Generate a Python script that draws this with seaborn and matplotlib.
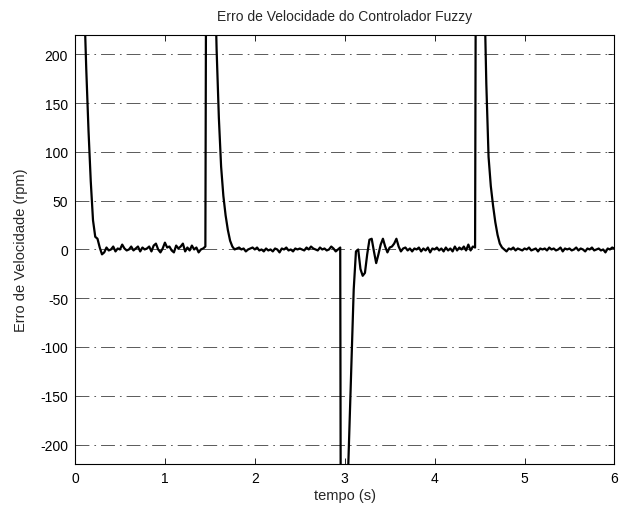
import numpy as np
import pandas as pd
import matplotlib
matplotlib.use("Agg")
import matplotlib.pyplot as plt
import seaborn as sns

# sampling interval of the logged signal (s)
dt = 0.025

# speed error (rpm), one value per sample
erro = [
    900, 600, 420, 330, 260, 185, 122, 70, 30, 13,
    11, 2, -5, -3, 2, -1, 0, 3, -2, 1,
    0, 5, 1, -1, 0, 3, -1, 1, 3, -2,
    2, 0, 1, 3, -2, 4, 6, 0, -3, 1,
    7, 2, 3, -1, -3, 4, 1, 3, 6, -2,
    2, -1, 4, 0, 2, -3, 0, 1, 3, 900,
    600, 420, 300, 205, 135, 85, 55, 35, 20, 9,
    3, 0, 1, 2, 0, 1, -2, 0, 1, 2,
    0, 2, -1, 0, -2, 1, -1, 0, -2, 1,
    0, -3, 1, 0, 2, -1, 0, -2, 1, 0,
    1, 0, -1, 2, 0, 3, 1, 0, -1, 2,
    0, 1, -1, 0, 3, 1, -2, 0, 2, -1200,
    -900, -265, -190, -116, -41, -2, 0, -20, -27, -24,
    -5, 10, 11, -2, -14, -5, 5, 11, 3, -3,
    2, 3, 6, 11, 3, -2, 1, 2, -1, 1,
    -2, 1, 0, 2, -2, 1, -1, 2, -3, 1,
    0, 2, -1, 1, -2, 2, -1, 1, -2, 3,
    -1, 2, 0, 3, -1, 5, -1, 3, 2, 900,
    600, 400, 280, 170, 95, 65, 45, 28, 15, 6,
    2, 0, -2, 1, 0, 2, -1, 1, 0, -1,
    1, 0, 2, -1, 0, 1, -2, 1, 0, 1,
    -1, 2, 0, 1, -1, 0, 2, -2, 1, 0,
    1, -1, 0, 2, -1, 1, 0, -2, 1, 0,
    2, -1, 0, 1, -1, 0, -3, 1, 0, 2, 1,
]
tempo = np.arange(len(erro)) * dt

x_ticks = [0, 1, 2, 3, 4, 5, 6]
y_ticks = [-200, -150, -100, -50, 0, 50, 100, 150, 200]

df = pd.DataFrame({"tempo": tempo, "erro": erro})

sns.set_style("ticks")
plt.rcParams["font.family"] = ["Liberation Sans", "DejaVu Sans"]
plt.rcParams["axes.unicode_minus"] = False
plt.rcParams["lines.scale_dashes"] = False

fig = plt.figure(figsize=(6.2, 5.06), dpi=100)
ax = fig.add_axes([0.121, 0.081, 0.870, 0.848])

# MATLAB-like dash-dot grid on the y ticks only
for yv in y_ticks:
    ax.axhline(yv, color="0.35", lw=0.7, dashes=(10, 3.6, 1.2, 3.6), zorder=1)

sns.lineplot(data=df, x="tempo", y="erro", ax=ax, color="black", lw=1.6,
             zorder=3, estimator=None, sort=False)

ax.set_xlim(0, 6)
ax.set_ylim(-220, 220)
ax.set_xticks(x_ticks)
ax.set_yticks(y_ticks)
ax.tick_params(direction="in", length=4, width=0.6, top=True, right=True,
               labelsize=10, pad=5, colors="black")
for side in ax.spines.values():
    side.set_linewidth(0.8)
    side.set_color("black")

ax.set_title("Erro de Velocidade do Controlador Fuzzy", fontsize=10, pad=11)
ax.set_xlabel("tempo (s)", fontsize=10.5, labelpad=2)
ax.set_ylabel("Erro de Velocidade (rpm)", fontsize=10.5, labelpad=9)

fig.savefig("out.png", dpi=100)
